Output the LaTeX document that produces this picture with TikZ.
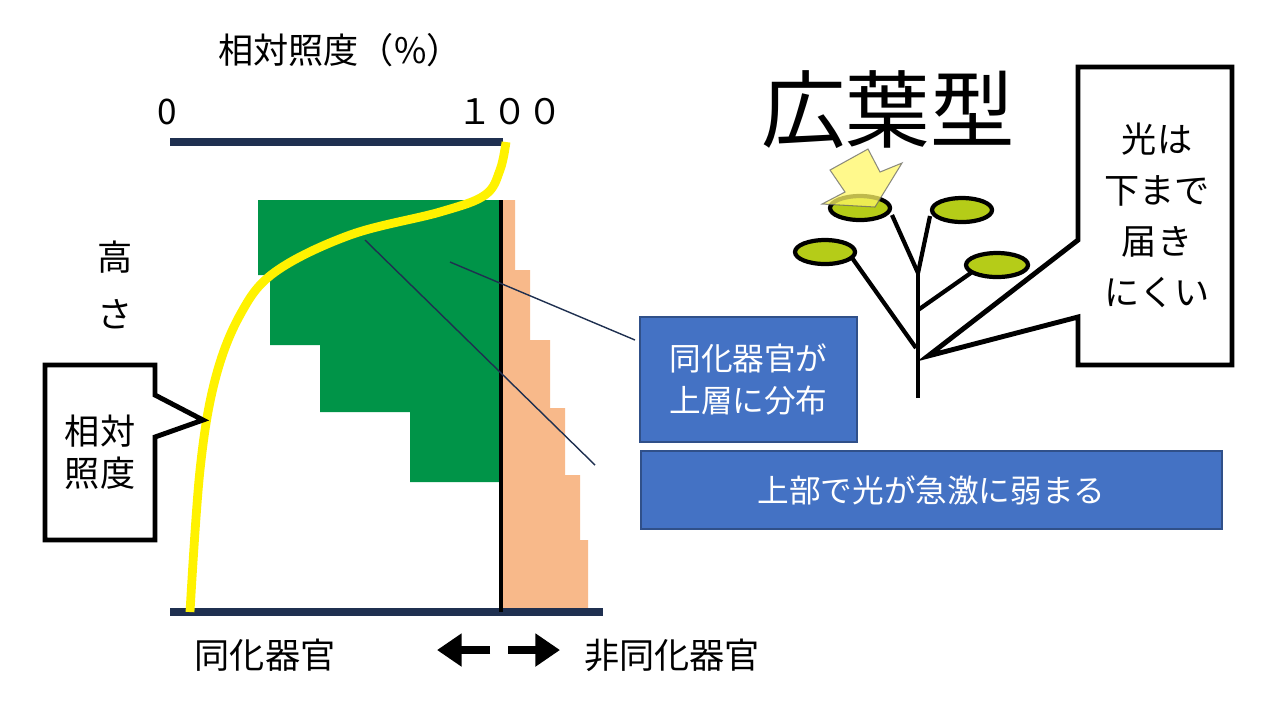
\documentclass[tikz,border=0pt]{standalone}
\usepackage{fontspec}
\setmainfont{Noto Sans CJK JP}
\usetikzlibrary{arrows.meta}
\definecolor{navy}{HTML}{1F3050}
\definecolor{leafg}{HTML}{009448}
\definecolor{peach}{HTML}{F8B98A}
\definecolor{bluebox}{HTML}{4472C4}
\definecolor{leafy}{HTML}{B5CC18}
\tikzset{
 lbl/.style={font=\fontsize{10}{12}\selectfont, inner sep=0pt},
 bbox/.style={fill=bluebox, draw=bluebox!70!black, text=white, font=\fontsize{9}{12}\selectfont, align=center},
 call/.style={draw=black, line width=1.4pt, fill=white, line join=miter},
 leaf/.style={draw=black, line width=1.2pt, fill=leafy},
 stemline/.style={line width=1.2pt}
}
\begin{document}
\begin{tikzpicture}[x=0.01cm,y=-0.01cm]
\useasboundingbox (0,0) rectangle (1280,720);
% staircases
\fill[leafg] (258,200) -- (500,200) -- (500,482) -- (410,482) -- (410,412) -- (320,412) -- (320,345) -- (270,345) -- (270,275) -- (258,275) -- cycle;
\fill[peach] (502,200) -- (515,200) -- (515,270) -- (530,270) -- (530,340) -- (550,340) -- (550,408) -- (565,408) -- (565,475) -- (580,475) -- (580,540) -- (588,540) -- (588,612) -- (502,612) -- cycle;
% axes
\coordinate (t0) at (170,142); \coordinate (t1) at (503,142);
\coordinate (b0) at (170,612); \coordinate (b1) at (603,612);
\coordinate (v0) at (501,200);
\draw[navy, line width=2.2pt] (t0) -- (t1);
\draw[navy, line width=2.2pt] (b0) -- (b1);
\draw[black, line width=1.3pt] (v0) -- (501,612);
% curve
\draw[yellow, line width=2.5pt] plot[smooth, tension=0.6] coordinates {(190,612) (200,470) (215,380) (240,315) (275,272) (350,235) (440,212) (485,195) (500,170) (506,142)};
% thin lines
\draw[navy, line width=0.4pt] (365,240) -- (595,465);
\draw[navy, line width=0.4pt] (450,262) -- (635,340);
% texts
\node[lbl] (ttl) at (340,50) {相対照度（\%）};
\node[lbl] (z) at (167,112) {0};
\node[lbl] (h) at (510,112) {１００};
\node[lbl, align=center] (ht) at (115,285) {高\\[4pt]さ};
\node[lbl] (dk) at (265,655) {同化器官};
\node[lbl] (ndk) at (672,655) {非同化器官};
\coordinate (la0) at (490,650); \coordinate (la1) at (437,650);
\coordinate (ra0) at (508,650); \coordinate (ra1) at (560,650);
\draw[line width=2.5pt, -{Triangle[length=7pt,width=9pt]}] (la0) -- (la1);
\draw[line width=2.5pt, -{Triangle[length=7pt,width=9pt]}] (ra0) -- (ra1);
% blue boxes
\node[bbox, minimum width=217*0.01cm, minimum height=125*0.01cm] (bx1) at (748.5,379.5) {同化器官が\\上層に分布};
\node[bbox, minimum width=581*0.01cm, minimum height=78*0.01cm] (bx2) at (931.5,490) {上部で光が急激に弱まる};
% left callout
\draw[call] (45,365) -- (155,365) -- (155,395) -- (203,420) -- (155,437) -- (155,540) -- (45,540) -- cycle;
\node[lbl, align=center] (lc) at (100,452) {相対\\照度};
% title
\node[inner sep=0pt, font=\fontsize{24}{28}\selectfont] (kt) at (888,110) {広葉型};
% plant
\draw[stemline] (918,398) -- (918,273);
\draw[stemline] (916,348) -- (850,255);
\draw[stemline] (918,273) -- (892,215);
\draw[stemline] (918,273) -- (930,216);
\draw[stemline] (918,310) -- (975,270);
\draw[leaf] (825,252) ellipse (30 and 12);
\draw[leaf] (860,208) ellipse (30 and 12);
\draw[leaf] (962,210) ellipse (30 and 12);
\draw[leaf] (997,265) ellipse (31 and 12);
\fill[yellow!60, opacity=0.75, draw=black!60, line width=0.3pt] (830,170) -- (868,149) -- (880,172) -- (902,163) -- (875,207) -- (822,204) -- (845,192) -- cycle;
% right callout
\draw[call] (1078,67) -- (1232,67) -- (1232,365) -- (1078,365) -- (1078,317) -- (928,356) -- (1078,240) -- cycle;
\node[lbl, align=center, font=\fontsize{10}{14.5}\selectfont] (rc) at (1157,215) {光は\\下まで\\届き\\にくい};
\end{tikzpicture}
\end{document}
